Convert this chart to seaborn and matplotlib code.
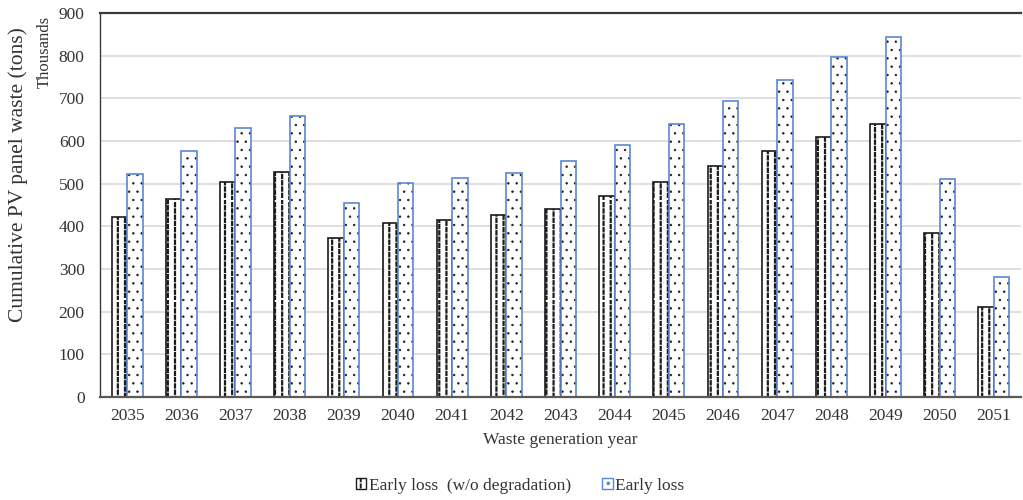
import numpy as np
import pandas as pd
import seaborn as sns
import matplotlib
matplotlib.use("Agg")
import matplotlib.pyplot as plt
import matplotlib.colors as mcolors
from matplotlib import hatch as mhatch
from matplotlib.path import Path
from matplotlib.patches import Patch

# ---- data (thousands of tons) ----
years = [str(y) for y in range(2035, 2052)]
early_loss_no_degradation = [423, 464, 505, 527, 373, 408, 414, 426, 441,
                             470, 505, 541, 576, 609, 641, 384, 210]
early_loss = [523, 576, 630, 659, 455, 501, 514, 526, 552,
              590, 641, 693, 743, 797, 844, 511, 281]
series_names = ["Early loss  (w/o degradation)", "Early loss"]
y_ticks = [0, 100, 200, 300, 400, 500, 600, 700, 800, 900]


# ---- vertical dashed hatch used for '|' ----
class VerticalDashHatch(mhatch.HatchPatternBase):
    def __init__(self, hatch, density):
        self.num_cols = int(round(hatch.count("|") * density * 7 / 3))
        self.num_rows = self.num_cols + 2
        self.num_vertices = self.num_cols * self.num_rows * 2

    def set_vertices_and_codes(self, vertices, codes):
        xstep = 1.0 / self.num_cols
        ystep = 1.0 / self.num_rows
        xs = (np.arange(self.num_cols) + 0.5) * xstep
        ys = np.arange(self.num_rows) * ystep
        X, Y = np.meshgrid(xs, ys)
        Y = Y + (np.arange(self.num_cols) % 2) * ystep / 2
        starts = np.column_stack([X.ravel(), Y.ravel()])
        ends = starts + [0, ystep * 0.5]
        pts = np.empty((starts.shape[0] * 2, 2))
        pts[0::2] = starts
        pts[1::2] = ends
        vertices[:] = pts
        codes[0::2] = Path.MOVETO
        codes[1::2] = Path.LINETO


mhatch._hatch_types[:] = [VerticalDashHatch if t is mhatch.VerticalHatch else t
                          for t in mhatch._hatch_types]

# ---- style ----
sns.set_theme(style="white")
plt.rcParams["font.family"] = ["Liberation Serif", "DejaVu Serif"]
plt.rcParams["hatch.linewidth"] = 1.4
text_color = "#333333"

df = pd.DataFrame({
    "year": years * 2,
    "series": [series_names[0]] * len(years) + [series_names[1]] * len(years),
    "value": early_loss_no_degradation + early_loss,
})

fig = plt.figure(figsize=(10.23, 5.0), dpi=100)
ax = fig.add_axes([100 / 1023, 1 - 397 / 500, 921 / 1023, 384 / 500])

sns.barplot(data=df, x="year", y="value", hue="series", hue_order=series_names,
            palette=["white", "white"], saturation=1, width=0.57, gap=0,
            dodge=True, legend=False, ax=ax, err_kws={"linewidth": 0})

edge_colors = ["#1a1a1a", "#5B87D6"]
hatches = ["|", ".."]
hatch_widths = [1.6, 0.5]
for cont, ec, h, hw in zip(ax.containers, edge_colors, hatches, hatch_widths):
    for bar in cont:
        bar.set_edgecolor(ec)
        bar.set_linewidth(1.2)
        bar.set_hatch(h)
        if hasattr(bar, "set_hatch_linewidth"):
            bar.set_hatch_linewidth(hw)
        if hasattr(bar, "set_hatchcolor"):
            bar.set_hatchcolor("#1a1a1a")
        else:
            bar._hatch_color = mcolors.to_rgba("#1a1a1a")

ax.set_ylim(0, 900)
ax.set_xlim(-0.5, len(years) - 0.5)
ax.set_yticks(y_ticks)
ax.yaxis.grid(True, color="#D9D9D9", linewidth=1.2)
ax.set_axisbelow(True)
ax.tick_params(axis="both", length=0, labelsize=12.5, labelcolor=text_color)
ax.tick_params(axis="y", pad=11)
ax.tick_params(axis="x", pad=8)

for side in ["top", "left", "bottom"]:
    ax.spines[side].set_visible(True)
    ax.spines[side].set_color("#3a3a3a")
ax.spines["bottom"].set_color("#595959")
ax.spines["bottom"].set_linewidth(1.6)
ax.spines["top"].set_linewidth(1.6)
ax.spines["left"].set_linewidth(1.0)
ax.spines["right"].set_visible(False)

ax.set_xlabel("Waste generation year", fontsize=12.5, color=text_color, va="center")
ax.xaxis.set_label_coords(0.5, (397 - 440) / 384)
ax.set_ylabel("Cumulative PV panel waste (tons)", fontsize=15.5, color=text_color,
              va="center")
ax.yaxis.set_label_coords((18 - 100) / 921, (397 - 175) / 384)
fig.text(45 / 1023, 1 - 52 / 500, "Thousands", rotation=90, ha="center",
         va="center", fontsize=12, color=text_color)

handles = [Patch(facecolor="white", edgecolor=ec, hatch=h, linewidth=1.0)
           for ec, h in zip(edge_colors, hatches)]
fig.legend(handles, series_names, loc="center", bbox_to_anchor=(520 / 1023, 1 - 486 / 500),
           ncol=2, frameon=False, fontsize=12.5, handlelength=0.6, handleheight=0.6,
           handletextpad=0.15, columnspacing=1.8, labelcolor=text_color)

fig.savefig("out.png", dpi=100)
